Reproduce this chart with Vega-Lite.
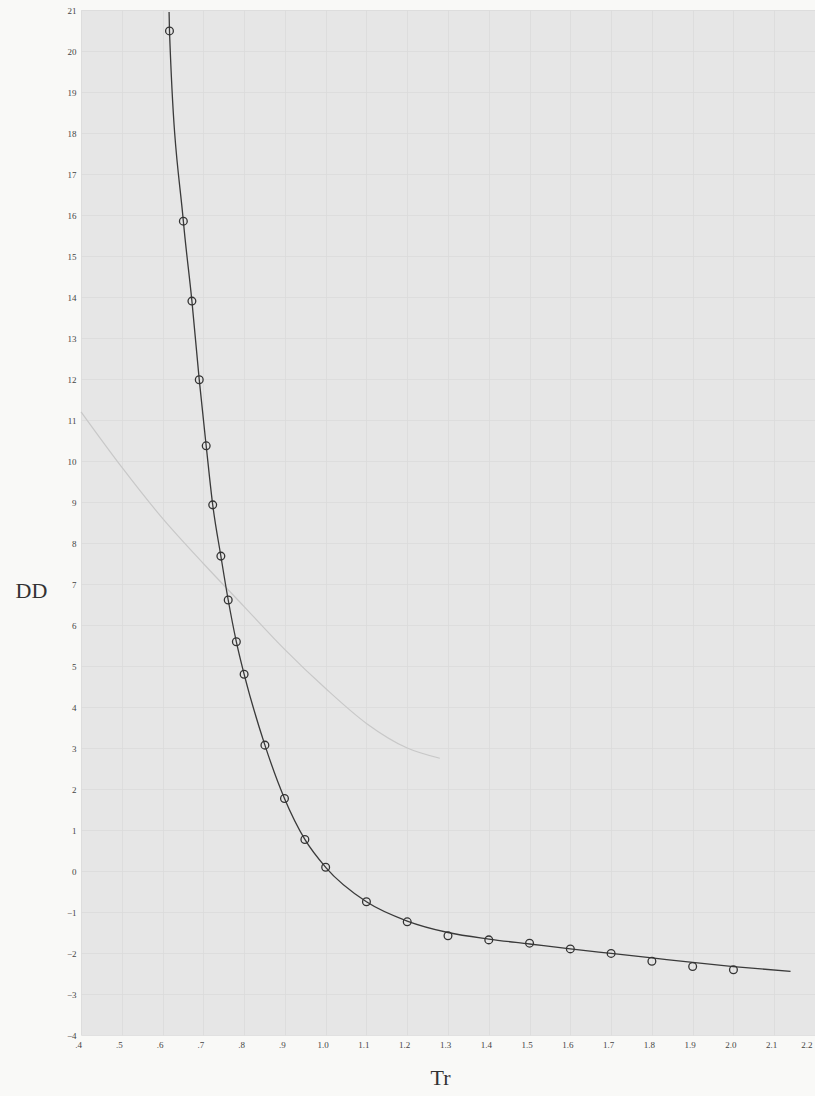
{
  "$schema": "https://vega.github.io/schema/vega-lite/v6.json",
  "width": 734,
  "height": 1025,
  "autosize": "none",
  "padding": {"left": 81, "top": 10, "right": 0, "bottom": 61},
  "background": "#f9f9f7",
  "config": {
    "view": {"fill": "#e6e6e6", "stroke": null},
    "axis": {
      "domain": false,
      "ticks": false,
      "grid": true,
      "gridColor": "#dadada",
      "gridWidth": 0.8,
      "labelFont": "Liberation Serif",
      "labelFontSize": 9,
      "labelColor": "#444",
      "titleFont": "Liberation Serif",
      "titleFontSize": 22,
      "titleFontWeight": "normal",
      "titleColor": "#333"
    }
  },
  "datasets": {
    "points": [
      {"Tr": 0.617, "DD": 20.49},
      {"Tr": 0.651, "DD": 15.85},
      {"Tr": 0.672, "DD": 13.9},
      {"Tr": 0.69, "DD": 11.98},
      {"Tr": 0.707, "DD": 10.37},
      {"Tr": 0.723, "DD": 8.93},
      {"Tr": 0.743, "DD": 7.68},
      {"Tr": 0.761, "DD": 6.61},
      {"Tr": 0.781, "DD": 5.59},
      {"Tr": 0.8, "DD": 4.8},
      {"Tr": 0.851, "DD": 3.07},
      {"Tr": 0.899, "DD": 1.77},
      {"Tr": 0.949, "DD": 0.77},
      {"Tr": 1.0, "DD": 0.09},
      {"Tr": 1.1, "DD": -0.75},
      {"Tr": 1.2, "DD": -1.24},
      {"Tr": 1.3, "DD": -1.58},
      {"Tr": 1.4, "DD": -1.68},
      {"Tr": 1.5, "DD": -1.76},
      {"Tr": 1.6, "DD": -1.9},
      {"Tr": 1.7, "DD": -2.01},
      {"Tr": 1.8, "DD": -2.2},
      {"Tr": 1.9, "DD": -2.33},
      {"Tr": 2.0, "DD": -2.41}
    ],
    "curve": [
      {"Tr": 0.616, "DD": 20.95},
      {"Tr": 0.617, "DD": 20.49},
      {"Tr": 0.651, "DD": 15.85},
      {"Tr": 0.672, "DD": 13.9},
      {"Tr": 0.69, "DD": 11.98},
      {"Tr": 0.707, "DD": 10.37},
      {"Tr": 0.723, "DD": 8.93},
      {"Tr": 0.743, "DD": 7.68},
      {"Tr": 0.761, "DD": 6.61},
      {"Tr": 0.781, "DD": 5.59},
      {"Tr": 0.8, "DD": 4.8},
      {"Tr": 0.851, "DD": 3.07},
      {"Tr": 0.899, "DD": 1.77},
      {"Tr": 0.949, "DD": 0.77},
      {"Tr": 1.0, "DD": 0.09},
      {"Tr": 1.1, "DD": -0.75},
      {"Tr": 1.2, "DD": -1.22},
      {"Tr": 1.3, "DD": -1.5},
      {"Tr": 1.4, "DD": -1.66},
      {"Tr": 1.5, "DD": -1.78},
      {"Tr": 1.6, "DD": -1.9},
      {"Tr": 1.7, "DD": -2.01},
      {"Tr": 1.8, "DD": -2.12},
      {"Tr": 1.9, "DD": -2.23},
      {"Tr": 2.0, "DD": -2.33},
      {"Tr": 2.14, "DD": -2.45}
    ],
    "ghost": [
      {"Tr": 0.4, "DD": 11.2},
      {"Tr": 0.5, "DD": 9.85},
      {"Tr": 0.6, "DD": 8.6},
      {"Tr": 0.7, "DD": 7.5},
      {"Tr": 0.8, "DD": 6.45},
      {"Tr": 0.9, "DD": 5.4},
      {"Tr": 1.0, "DD": 4.45},
      {"Tr": 1.1, "DD": 3.6},
      {"Tr": 1.2, "DD": 3.0},
      {"Tr": 1.28, "DD": 2.75}
    ]
  },
  "encoding": {
    "x": {
      "field": "Tr",
      "type": "quantitative",
      "title": "Tr",
      "scale": {"domain": [0.4, 2.2], "nice": false, "zero": false},
      "axis": {
        "values": [0.4, 0.5, 0.6, 0.7, 0.8, 0.9, 1.0, 1.1, 1.2, 1.3, 1.4, 1.5, 1.6, 1.7, 1.8, 1.9, 2.0, 2.1, 2.2],
        "labelExpr": "datum.value < 0.95 ? replace(format(datum.value, '.1f'), '0.', '.') : format(datum.value, '.1f')",
        "labelPadding": 5,
        "labelOffset": -3,
        "labelAlign": {"condition": {"test": "datum.value > 2.15", "value": "right"}, "value": "center"},
        "labelFlush": false,
        "labelOverlap": false,
        "titleX": 359,
        "titleY": 42,
        "titleAlign": "center",
        "titleBaseline": "middle"
      }
    },
    "y": {
      "field": "DD",
      "type": "quantitative",
      "title": "DD",
      "scale": {"domain": [-4, 21], "nice": false, "zero": false},
      "axis": {
        "values": [-4, -3, -2, -1, 0, 1, 2, 3, 4, 5, 6, 7, 8, 9, 10, 11, 12, 13, 14, 15, 16, 17, 18, 19, 20, 21],
        "format": "d",
        "labelPadding": 5,
        "labelFlush": false,
        "labelOverlap": false,
        "titleAngle": 0,
        "titleX": -50,
        "titleY": 580,
        "titleAlign": "center",
        "titleBaseline": "middle"
      }
    }
  },
  "layer": [
    {
      "data": {"name": "ghost"},
      "mark": {"type": "line", "interpolate": "monotone", "color": "#c8c8c8", "strokeWidth": 1.2}
    },
    {
      "data": {"name": "curve"},
      "mark": {"type": "line", "interpolate": "monotone", "color": "#3a3a3a", "strokeWidth": 1.3}
    },
    {
      "data": {"name": "points"},
      "mark": {"type": "point", "shape": "circle", "filled": false, "size": 60, "stroke": "#333", "strokeWidth": 1.3, "opacity": 1}
    }
  ]
}
